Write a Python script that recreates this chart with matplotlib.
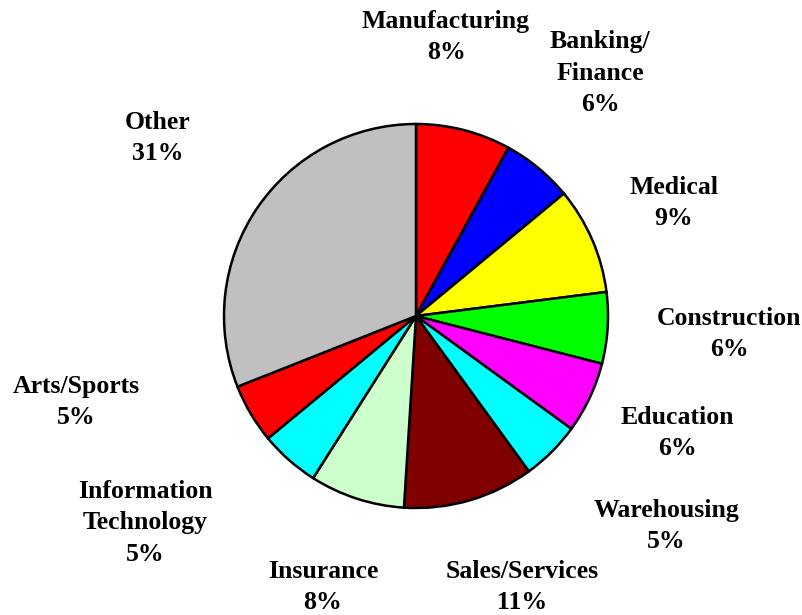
import matplotlib
matplotlib.use("Agg")
import matplotlib.pyplot as plt

categories = ["Manufacturing", "Banking/\nFinance", "Medical", "Construction", "Education",
              "Warehousing", "Sales/Services", "Insurance", "Information\nTechnology",
              "Arts/Sports", "Other"]
values = [8, 6, 9, 6, 6, 5, 11, 8, 5, 5, 31]
colors = ["#FF0000", "#0000FF", "#FFFF00", "#00FF00", "#FF00FF", "#00FFFF",
          "#800000", "#CCFFCC", "#00FFFF", "#FF0000", "#C0C0C0"]

# label centres in pixel coordinates (x from left, y from top)
label_pos = [(446, 37), (600, 73), (674, 203), (729, 334), (677, 433), (666, 526),
             (522, 587), (323, 587), (145, 523), (76, 402), (158, 138)]

W, H = 802, 615
fig = plt.figure(figsize=(W / 100, H / 100), dpi=100)
ax = fig.add_axes([0, 0, 1, 1])

cx, cy, r = 416, H - 316, 192
ax.pie(values, colors=colors, startangle=90, counterclock=False,
       center=(cx, cy), radius=r, frame=True,
       wedgeprops=dict(edgecolor="black", linewidth=1.8))
ax.set_xlim(0, W)
ax.set_ylim(0, H)
ax.set_aspect("equal")
ax.axis("off")

for cat, v, (x, y) in zip(categories, values, label_pos):
    ax.text(x, H - y, f"{cat}\n{v}%", ha="center", va="center",
            fontsize=18.5, fontweight="bold", family="Liberation Serif",
            linespacing=1.45)

fig.savefig("out.png", dpi=100)
